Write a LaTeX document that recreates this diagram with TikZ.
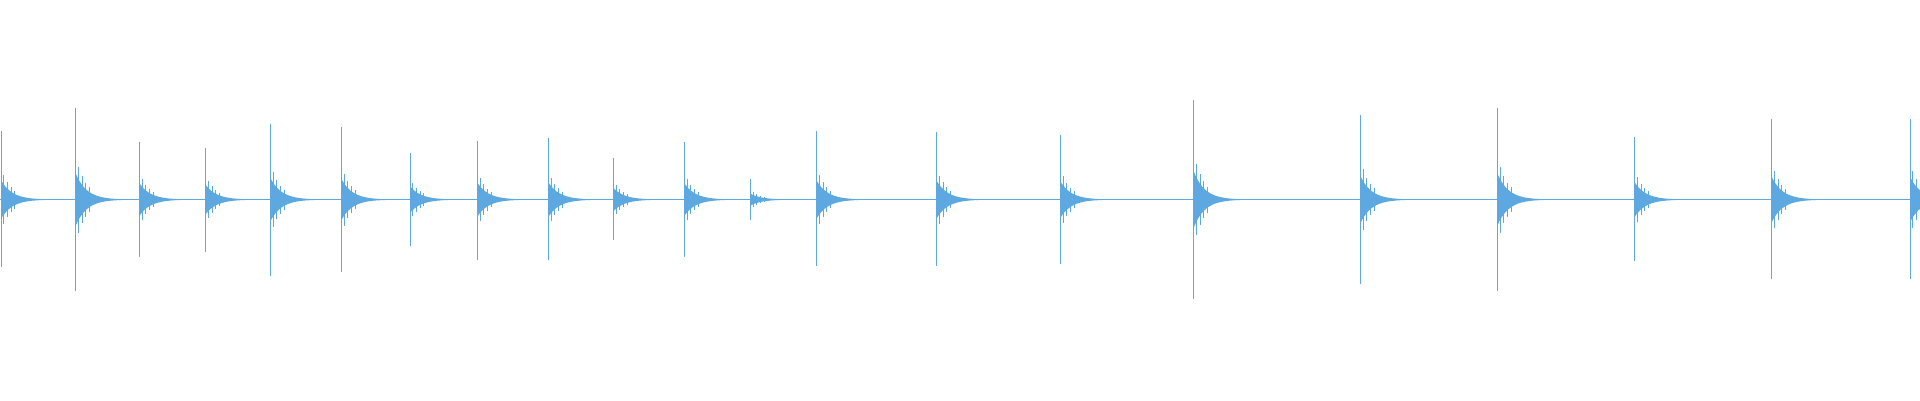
\documentclass[tikz,border=0pt]{standalone}
\definecolor{wavec}{RGB}{94,168,226}
\begin{document}
\begin{tikzpicture}[x=1pt,y=-1pt,wave/.style={wavec,line width=0.8pt}]
\useasboundingbox (0,0) rectangle (1568,327);
\draw[wavec,line width=0.5pt] (0,163) -- (1568,163);
\foreach \x/\t/\b in {1/107/218,62/88/238,114/116/210,168/121/206,221/101/225,279/104/222,335/125/201,390/115/212,448/113/212,501/129/196,559/116/210,613/146/180,667/107/217,765/108/217,866/110/216,975/82/244,1111/94/232,1223/88/238,1335/112/213,1447/97/228,1560/97/228}{
  \pgfmathsetmacro{\a}{(\b-\t)*0.14}
  \draw[wave] (\x,\t) -- (\x,\b);
  \fill[wavec] plot[variable=\d,domain=0:40,samples=25] ({\x+\d},{163-\a*exp(-\d/9)}) -- plot[variable=\d,domain=40:0,samples=25] ({\x+\d},{163+\a*exp(-\d/9)}) -- cycle;
  \foreach \k in {2,5,8,11} {
    \draw[wavec,line width=0.5pt] ({\x+\k},{163-1.6*\a*exp(-\k/9)}) -- ({\x+\k},{163+1.6*\a*exp(-\k/9)});
  }
}
\end{tikzpicture}
\end{document}
